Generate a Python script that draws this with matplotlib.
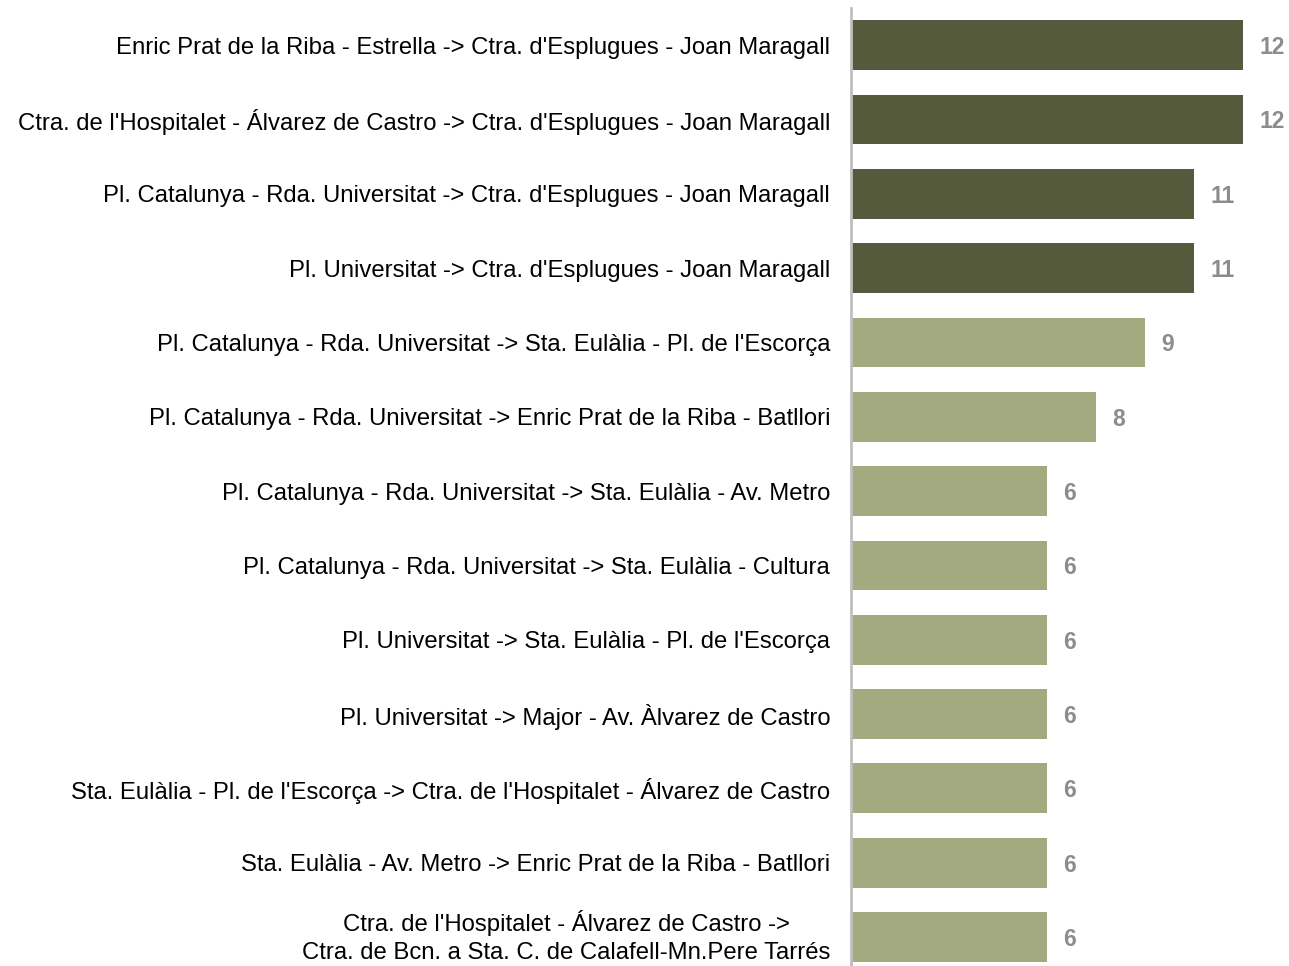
import matplotlib.pyplot as plt

plt.rcParams['font.family'] = ['Liberation Sans', 'DejaVu Sans']

# routes, top to bottom
routes = [
    "Enric Prat de la Riba - Estrella -> Ctra. d'Esplugues - Joan Maragall",
    "Ctra. de l'Hospitalet - Álvarez de Castro -> Ctra. d'Esplugues - Joan Maragall",
    "Pl. Catalunya - Rda. Universitat -> Ctra. d'Esplugues - Joan Maragall",
    "Pl. Universitat -> Ctra. d'Esplugues - Joan Maragall",
    "Pl. Catalunya - Rda. Universitat -> Sta. Eulàlia - Pl. de l'Escorça",
    "Pl. Catalunya - Rda. Universitat -> Enric Prat de la Riba - Batllori",
    "Pl. Catalunya - Rda. Universitat -> Sta. Eulàlia - Av. Metro",
    "Pl. Catalunya - Rda. Universitat -> Sta. Eulàlia - Cultura",
    "Pl. Universitat -> Sta. Eulàlia - Pl. de l'Escorça",
    "Pl. Universitat -> Major - Av. Àlvarez de Castro",
    "Sta. Eulàlia - Pl. de l'Escorça -> Ctra. de l'Hospitalet - Álvarez de Castro",
    "Sta. Eulàlia - Av. Metro -> Enric Prat de la Riba - Batllori",
    "Ctra. de l'Hospitalet - Álvarez de Castro ->\nCtra. de Bcn. a Sta. C. de Calafell-Mn.Pere Tarrés",
]
values = [12, 12, 10.5, 10.5, 9, 7.5, 6, 6, 6, 6, 6, 6, 6]
labels = ['12', '12', '11', '11', '9', '8', '6', '6', '6', '6', '6', '6', '6']

dark = '#555a3c'
light = '#a4aa7f'
colors = [dark] * 4 + [light] * 9

fig = plt.figure(figsize=(12.89, 9.66), dpi=100)
ax = fig.add_axes([851 / 1289, 0, 1 - 851 / 1289, 1 - 8 / 966])

ypos = list(range(len(routes)))
ax.barh(ypos, values, height=0.67, color=colors)

for y, v, lab in zip(ypos, values, labels):
    ax.annotate(lab, (v, y), xytext=(11.5, 0), textcoords='offset points',
                va='center_baseline', ha='left', fontsize=16.5,
                fontweight='bold', color='#8c8c8c')

ax.set_yticks(ypos)
ticklabels = ax.set_yticklabels(routes, fontsize=17.2, color='black',
                                ha='right', multialignment='center',
                                linespacing=1.3)
# two-line label: centre the whole block on the bar
ticklabels[-1].set_verticalalignment('center')
ax.tick_params(axis='y', length=0, pad=15)
ax.set_xticks([])
ax.set_xlim(0, 13.4)
ax.set_ylim(12.39, -0.5)

for s in ['top', 'right', 'bottom']:
    ax.spines[s].set_visible(False)
ax.spines['left'].set_color('#bfbfbf')
ax.spines['left'].set_linewidth(2)

fig.savefig('out.png', dpi=100)
